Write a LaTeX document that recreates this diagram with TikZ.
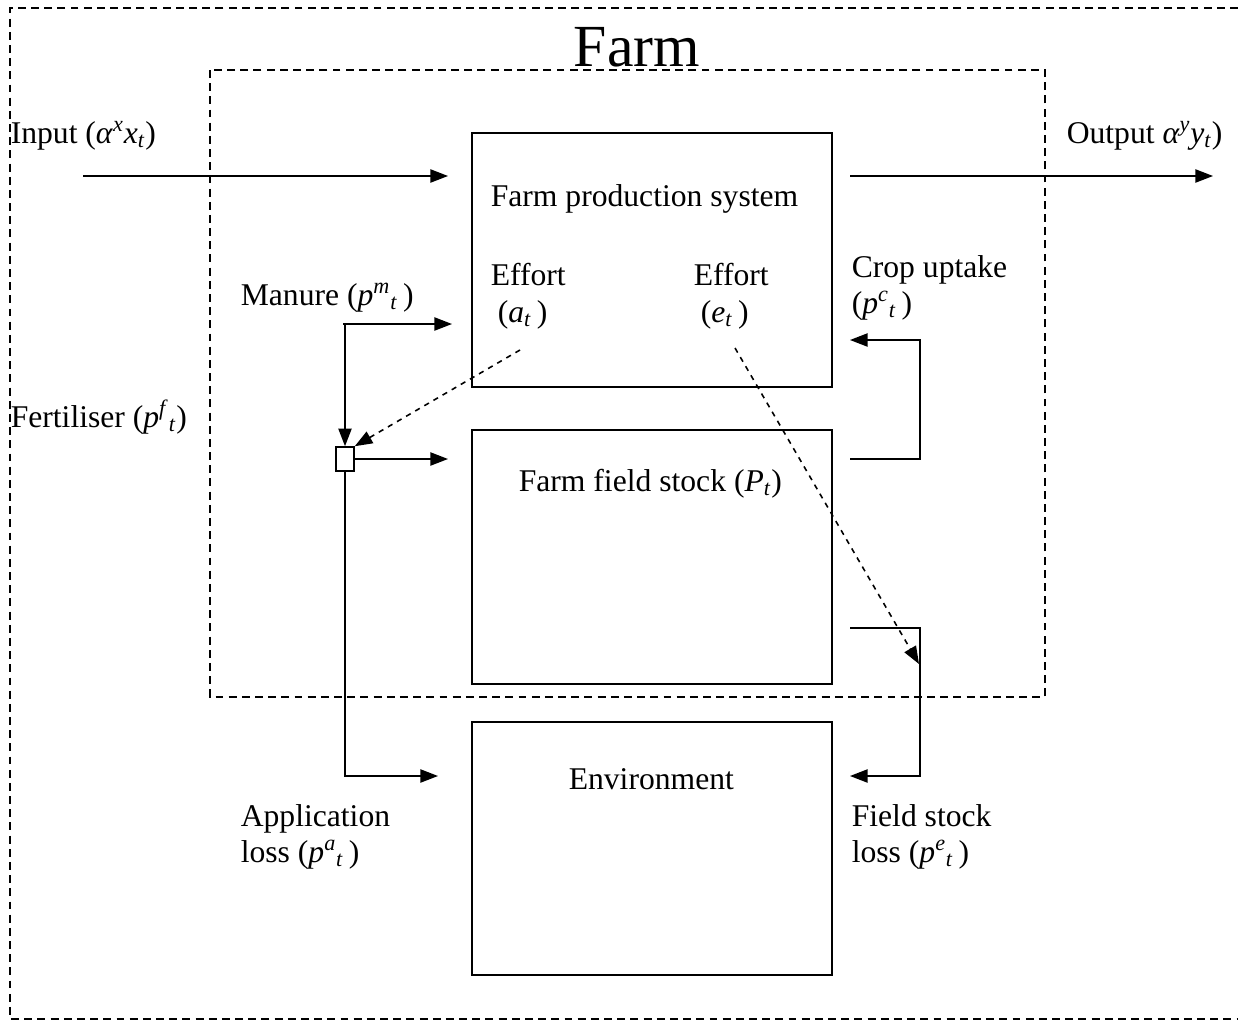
\documentclass[tikz,border=0pt]{standalone}
\usepackage{fontspec}
\setmainfont{Liberation Serif}
\usetikzlibrary{arrows.meta}
\newcommand{\pvar}[2]{(\textit{p}\textsuperscript{\textit{#1}}\textsubscript{\textit{#2}}\,)}

\begin{document}
\begin{tikzpicture}[x=0.02cm, y=-0.02cm, line width=0.9pt, >={Triangle[length=10pt,width=7.5pt]},
  box node/.style={draw, rectangle, minimum width=7.2cm, minimum height=5.07cm, inner sep=0pt},
  mix node/.style={draw, rectangle, minimum width=0.36cm, minimum height=0.48cm, inner sep=0pt},
  txt node/.style={anchor=base west, inner sep=0pt, font=\fontsize{18}{21}\selectfont},
  border/.style={line width=0.7pt, dash pattern=on 4.5pt off 3pt}]
\useasboundingbox (0,0) rectangle (1238,1021);
\draw[border] (1238,8) -- (10,8) -- (10,1019) -- (1238,1019);
\draw[border] (210,70) rectangle (1045,697);
\node[inner sep=0pt, anchor=base, font=\fontsize{34}{40}\selectfont] (farm) at (637,66) {Farm};
\begin{scope}
\node[box node] (prod) at (652,260) {};
\node[box node] (stock) at (652,557) {};
\node[box node] (env) at (652,848.5) {};
\node[mix node] (mix) at (345,459) {};
\end{scope}
\begin{scope}[every node/.style={txt node}]
\node (tin) at (10,143) {Input (\textit{α}\textsuperscript{\textit{x}}\textit{x}\textsubscript{\textit{t}})};
\node (tout) at (1066,143) {Output \textit{α}\textsuperscript{\textit{y}}\textit{y}\textsubscript{\textit{t}})};
\node (tprod) at (490,206) {Farm production system};
\node (teffa) at (490,285) {Effort};
\node (teffa2) at (497,322) {(\textit{a}\textsubscript{\textit{t}}\,)};
\node (teffe) at (693,285) {Effort};
\node (teffe2) at (700,322) {(\textit{e}\textsubscript{\textit{t}}\,)};
\node (tman) at (240,305) {Manure \pvar{m}{t}};
\node (tfert) at (10,427) {Fertiliser (\textit{p}\textsuperscript{\textit{f}}\textsubscript{\textit{t}})};
\node (tcrop) at (851,277) {Crop uptake};
\node (tcrop2) at (851,313) {\pvar{c}{t}};
\node (tstock) at (518,491) {Farm field stock (\textit{P}\textsubscript{\textit{t}})};
\node (tenv) at (568,789) {Environment};
\node (tapp) at (240,826) {Application};
\node (tapp2) at (240,862) {loss \pvar{a}{t}};
\node (tloss) at (851,826) {Field stock};
\node (tloss2) at (851,862) {loss \pvar{e}{t}};
\end{scope}
\begin{scope}
\coordinate (in0) at (83,176);
\coordinate (in1) at (448,176);
\coordinate (out0) at (850,176);
\coordinate (out1) at (1213,176);
\coordinate (man0) at (343,324);
\coordinate (man1) at (452,324);
\coordinate (fld1) at (448,459);
\coordinate (app1) at (438,776);
\coordinate (crop0) at (850,459);
\coordinate (crop1) at (920,340);
\coordinate (crop2) at (850,340);
\coordinate (loss0) at (850,628);
\coordinate (loss1) at (920,776);
\coordinate (loss2) at (850,776);
\coordinate (effa) at (520,350);
\coordinate (effe) at (735,348);
\coordinate (effe1) at (919,664);
\draw[->] (in0) -- (in1);
\draw[->] (out0) -- (out1);
\draw[->] (man0) -- (man1);
\draw[->] (man0-|mix) -- (mix.north);
\draw[->] (mix.east) -- (fld1);
\draw[->] (mix.south) |- (app1);
\draw[->] (crop0) -| (crop1) -- (crop2);
\draw[->] (loss0) -| (loss1) -- (loss2);
\draw[->, dashed] (effa) -- (mix.north east);
\draw[->, dashed] (effe) -- (effe1);
%\draw[->] (stock) -- (env);
\end{scope}
\end{tikzpicture}
\end{document}
